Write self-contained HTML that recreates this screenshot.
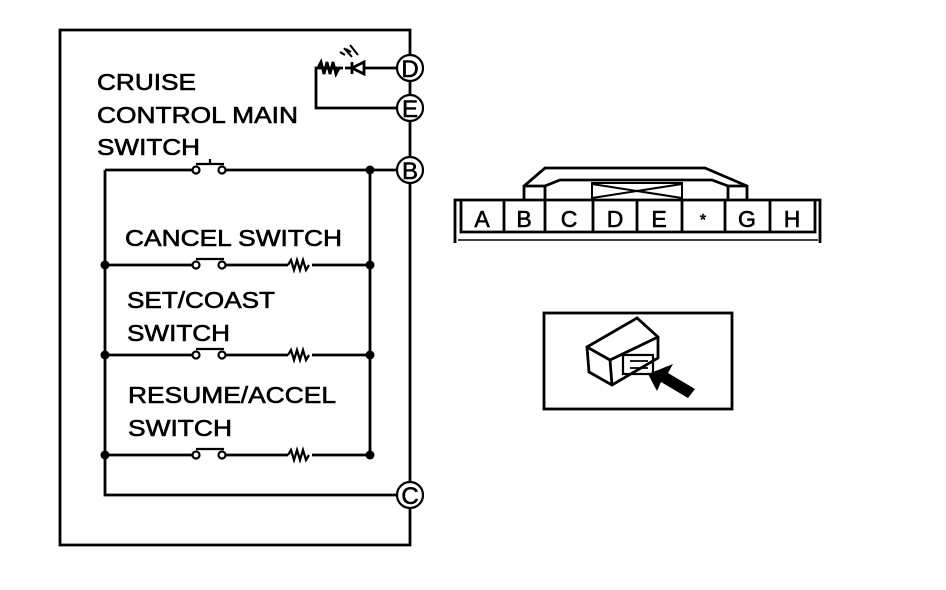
<!DOCTYPE html>
<html><head><style>body{margin:0;background:#fff}svg{display:block}</style></head><body>
<svg width="946" height="590" viewBox="0 0 946 590" xmlns="http://www.w3.org/2000/svg" font-family="Liberation Sans, Arial, sans-serif">
<g fill="none" stroke="#000" stroke-width="2.8">
<path d="M410 30 H60 V545 H410 Z"/>
<path d="M397 68 H364 M352 68 H345 M343 68 H316 V108 H397"/>
<path d="M318 68 l3 -6 l3 12 l3 -12 l3 12 l3 -12 l3 12 l3 -6"/>
<path d="M352 62 V74 M364 62 L352 68 L364 74 Z"/>
<path d="M352 57 l-8 -9 M345 55 l-5 -3 M358 55 l-8 -10 M351 52 l-5 -3" stroke-width="2"/>
<path d="M105 170 H196 M224 170 H397"/>
<path d="M196 164 H224 M210 159 V164" stroke-width="2.2"/>
<path d="M105 170 V495 H397 M370 170 V455"/>
<path d="M105 265 H196 M224 265 H288 M312 265 H370"/>
<path d="M105 355 H196 M224 355 H288 M312 355 H370"/>
<path d="M105 455 H196 M224 455 H288 M312 455 H370"/>
<g stroke-width="2.2">
<path d="M196 259 H224 M196 349 H224 M196 449 H224"/>
<path d="M288 265 l3 -5 l3 10 l3 -10 l3 10 l3 -10 l3 10 l3 -5 M288 355 l3 -5 l3 10 l3 -10 l3 10 l3 -10 l3 10 l3 -5 M288 455 l3 -5 l3 10 l3 -10 l3 10 l3 -10 l3 10 l3 -5"/>
</g>
</g>
<g fill="#fff" stroke="#000" stroke-width="2.2">
<circle cx="196" cy="170" r="3.5"/><circle cx="222" cy="170" r="3.5"/>
<circle cx="196" cy="265" r="3.5"/><circle cx="222" cy="265" r="3.5"/>
<circle cx="196" cy="355" r="3.5"/><circle cx="222" cy="355" r="3.5"/>
<circle cx="196" cy="455" r="3.5"/><circle cx="222" cy="455" r="3.5"/>
<circle cx="410" cy="68" r="13"/><circle cx="410" cy="108" r="13"/>
<circle cx="410" cy="170" r="13"/><circle cx="410" cy="495" r="13"/>
</g>
<g fill="#000">
<circle cx="370" cy="170" r="4.5"/>
<circle cx="105" cy="265" r="4.5"/><circle cx="370" cy="265" r="4.5"/>
<circle cx="105" cy="355" r="4.5"/><circle cx="370" cy="355" r="4.5"/>
<circle cx="105" cy="455" r="4.5"/><circle cx="370" cy="455" r="4.5"/>
</g>
<g font-size="24" text-anchor="middle" stroke="#000" stroke-width="0.6">
<text x="410" y="77">D</text><text x="410" y="117">E</text>
<text x="410" y="179">B</text><text x="410" y="504">C</text>
</g>
<g font-size="23" stroke="#000" stroke-width="0.6" lengthAdjust="spacingAndGlyphs">
<text x="97" y="90" textLength="99" lengthAdjust="spacingAndGlyphs">CRUISE</text>
<text x="97" y="123" textLength="201" lengthAdjust="spacingAndGlyphs">CONTROL MAIN</text>
<text x="97" y="155" textLength="103" lengthAdjust="spacingAndGlyphs">SWITCH</text>
<text x="125" y="246" textLength="217" lengthAdjust="spacingAndGlyphs">CANCEL SWITCH</text>
<text x="127" y="308" textLength="148" lengthAdjust="spacingAndGlyphs">SET/COAST</text>
<text x="127" y="341" textLength="103" lengthAdjust="spacingAndGlyphs">SWITCH</text>
<text x="128" y="403" textLength="208" lengthAdjust="spacingAndGlyphs">RESUME/ACCEL</text>
<text x="128" y="436" textLength="104" lengthAdjust="spacingAndGlyphs">SWITCH</text>
</g>
<g fill="none" stroke="#000" stroke-width="2.8">
<path d="M455 243 V200 H820 V243"/>
<path d="M461 200 V232 H815 V200"/>
<path d="M458 240 H818" stroke-width="1.5"/>
<path d="M504 200 V232 M545 200 V232 M593 200 V232 M637 200 V232 M682 200 V232 M725 200 V232 M770 200 V232"/>
<path d="M524 200 V186 L545 168 H705 L747 186 V200"/>
<path d="M545 200 V186 L560 180 H712 L728 186 V200 M524 186 H545 M728 186 H747"/>
<path d="M592 200 V183 H682 V200 M592 184 L682 198 M682 184 L592 198" stroke-width="2"/>
</g>
<g font-size="23" text-anchor="middle" stroke="#000" stroke-width="0.6">
<text x="482" y="227">A</text><text x="524" y="227">B</text><text x="569" y="227">C</text>
<text x="615" y="227">D</text><text x="659" y="227">E</text><text x="703" y="225" font-size="16">*</text>
<text x="747" y="227">G</text><text x="792" y="227">H</text>
</g>
<g fill="none" stroke="#000" stroke-width="2.8">
<rect x="544" y="313" width="188" height="96"/>
<path d="M587 347 L637 318 L658 337 L658 358 L612 385 L589 372 Z M587 347 L610 360 L658 337 M610 360 L612 385"/>
<rect x="623" y="355" width="30" height="19" stroke-width="2.2"/>
<path d="M630 361 H648 M630 368 H648" stroke-width="1.8"/>
</g>
<path d="M648 374 L673 364 L668 373 L695 389 L688 398 L661 382 L657 391 Z" fill="#000"/>
</svg>
</body></html>
